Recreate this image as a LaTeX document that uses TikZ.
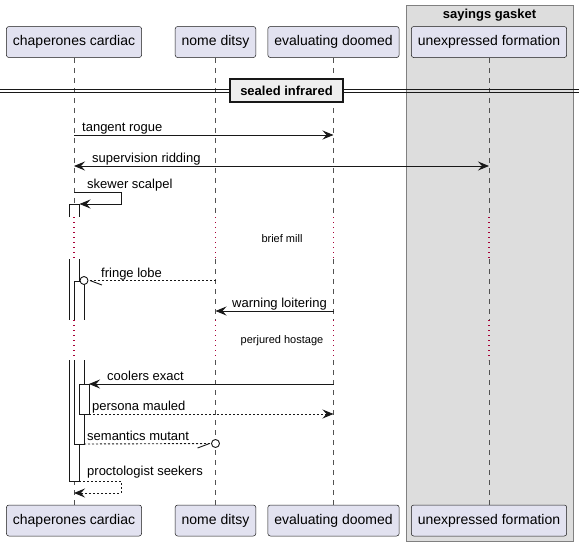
\documentclass[tikz,border=0pt]{standalone}
\usepackage{fontspec}
\setmainfont{Liberation Sans}
\usetikzlibrary{arrows.meta, positioning, calc}

\definecolor{partfill}{HTML}{E2E2F0}
\definecolor{ink}{HTML}{181818}
\definecolor{pausered}{HTML}{A80036}
\definecolor{groupfill}{HTML}{DDDDDD}
\definecolor{divfill}{HTML}{EEEEEE}

\tikzset{
  >={Stealth[length=11pt,width=9pt,inset=4pt]},
  part/.style={draw=ink, line width=0.5pt, fill=partfill, rounded corners=2.5pt,
    minimum height=31pt, inner xsep=6.5pt, font=\fontsize{14}{16}\selectfont},
  life/.style={draw=ink!75, line width=0.6pt, dash pattern=on 5pt off 5pt},
  pause/.style={draw=pausered, line width=1.2pt, dash pattern=on 1.2pt off 3.8pt},
  bar/.style={draw=ink, line width=0.9pt},
  msg/.style={draw=ink, line width=0.9pt, ->},
  ret/.style={msg, dash pattern=on 2pt off 2pt},
  lbl/.style={font=\fontsize{13}{15}\selectfont, anchor=base west, inner sep=0pt},
  pausetext/.style={font=\fontsize{11}{13}\selectfont, inner sep=0pt},
  ring/.style={circle, draw=ink, line width=0.9pt, fill=white, inner sep=0pt, minimum size=8pt},
}

\begin{document}
\begin{tikzpicture}[x=1pt, y=-1pt]
    \useasboundingbox (0,0) rectangle (579,546);

    % 分组框
    \draw[fill=groupfill, draw=ink!55, line width=0.8pt] (406,5) rectangle (573,541);
    \node[font=\bfseries\fontsize{13}{15}\selectfont] (gasket) at (489.5,15) {sayings gasket};

    % 参与者
    \node[part] (cc-top) at (74,42) {chaperones cardiac};
    \node[part] (nd-top) at (215.5,42) {nome ditsy};
    \node[part] (ed-top) at (333.5,42) {evaluating doomed};
    \node[part] (uf-top) at (489,42) {unexpressed formation};
    \node[part] (cc-bot) at (74,520.5) {chaperones cardiac};
    \node[part] (nd-bot) at (215.5,520.5) {nome ditsy};
    \node[part] (ed-bot) at (333.5,520.5) {evaluating doomed};
    \node[part] (uf-bot) at (489,520.5) {unexpressed formation};

    % 生命线 (延迟处为点线)
    \foreach \p in {cc,nd,ed,uf} {
        \draw[life] (\p-top.south) -- (\p-top |- 0,217);
        \draw[pause] (\p-top |- 0,217) -- (\p-top |- 0,259);
        \draw[life] (\p-top |- 0,259) -- (\p-top |- 0,320);
        \draw[pause] (\p-top |- 0,320) -- (\p-top |- 0,360);
        \draw[life] (\p-top |- 0,360) -- (\p-bot.north);
    }

    % 分隔线
    \draw[draw=ink, line width=0.9pt] (0,89.5) -- (579,89.5) (0,92.5) -- (579,92.5);
    \node[draw=ink, line width=1.8pt, fill=divfill, minimum width=113pt, minimum height=23pt,
          font=\bfseries\fontsize{13}{15}\selectfont] (infrared) at (286.5,90.5) {sealed infrared};

    % 延迟说明
    \node[pausetext] (mill) at (282,239) {brief mill};
    \node[pausetext] (hostage) at (282,341) {perjured hostage};

    % 激活条
    \fill[white] (69,204) rectangle (79,217);
    \draw[bar] (69,217) -- (69,204) -- (79,204) -- (79,217);
    \fill[white] (69,259) rectangle (79,320);
    \draw[bar] (69,259) -- (69,320) (79,259) -- (79,320);
    \fill[white] (69,360) rectangle (79,481);
    \draw[bar] (69,360) -- (69,481) -- (79,481) -- (79,360);
    \fill[white] (74,281) rectangle (84,320);
    \draw[bar] (74,320) -- (74,281) -- (84,281) -- (84,320);
    \fill[white] (74,360) rectangle (84,444);
    \draw[bar] (74,360) -- (74,444) -- (84,444) -- (84,360);
    \draw[bar, fill=white] (79,384) rectangle (89,414);

    % 消息
    \draw[msg] (cc-top |- 0,135) -- (ed-top |- 0,135);
    \node[lbl] (m-tangent) at (82,131) {tangent rogue};

    \draw[msg, <->] (cc-top |- 0,166) -- (uf-top |- 0,166);
    \node[lbl] (m-supervision) at (92,162) {supervision ridding};

    \draw[msg] (cc-top |- 0,192) -- (121,192) -- (121,204) -- ($(cc-top |- 0,204)+(5.5,0)$);
    \node[lbl] (m-skewer) at (87,188) {skewer scalpel};

    \node[ring] (lobe-end) at (84,280.5) {};
    \draw[ret, -] (nd-top |- lobe-end) -- (lobe-end);
    \draw[draw=ink, line width=0.9pt] ($(lobe-end.east)+(1.5,0)$) -- ++(12,4.5);
    \node[lbl] (m-fringe) at (101,277) {fringe lobe};

    \draw[msg] (ed-top |- 0,311) -- (nd-top |- 0,311);
    \node[lbl] (m-warning) at (232,307) {warning loitering};

    \draw[msg] (ed-top |- 0,384) -- (89,384);
    \node[lbl] (m-coolers) at (107,380) {coolers exact};

    \draw[ret] (89,414) -- (ed-top |- 0,414);
    \node[lbl] (m-persona) at (92,410) {persona mauled};

    \node[ring] (mutant-end) at (nd-top |- 0,443.5) {};
    \draw[ret, -] (84,444) -- (mutant-end);
    \draw[draw=ink, line width=0.9pt] ($(mutant-end.west)+(-1.5,0)$) -- ++(-12,4.5);
    \node[lbl] (m-semantics) at (87,440) {semantics mutant};

    \draw[ret] (79,481) -- (121,481) -- (121,493) -- (cc-top |- 0,493);
    \node[lbl] (m-procto) at (87,475.5) {proctologist seekers};
\end{tikzpicture}
\end{document}
